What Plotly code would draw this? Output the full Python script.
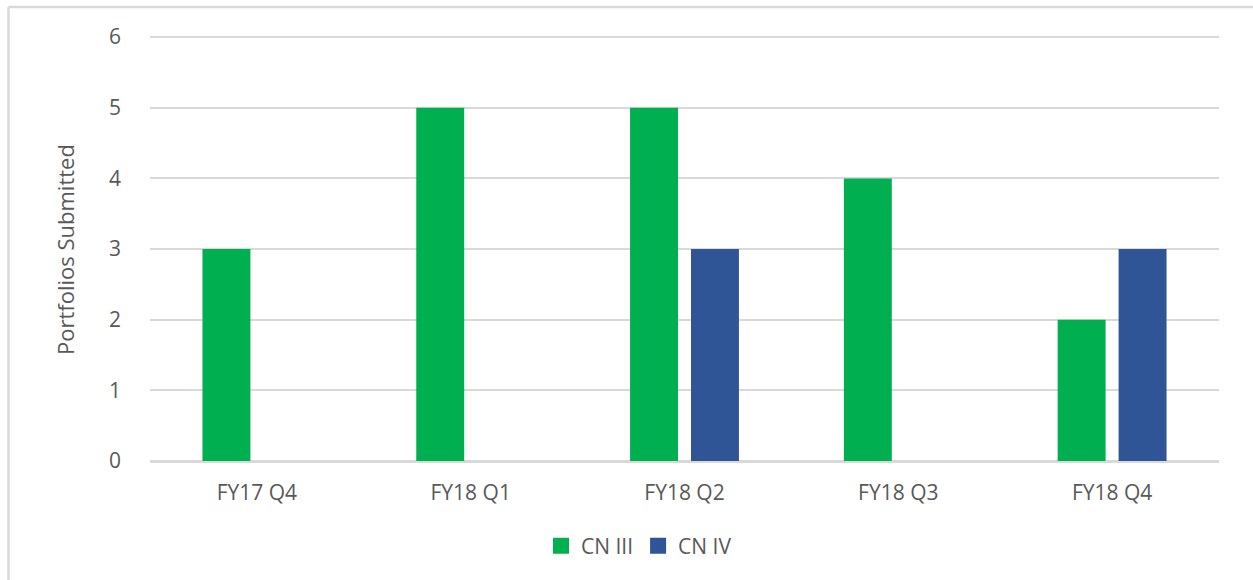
import plotly.graph_objects as go

categories = ["FY17 Q4", "FY18 Q1", "FY18 Q2", "FY18 Q3", "FY18 Q4"]
cn3 = [3, 5, 5, 4, 2]
cn4 = [None, None, 3, None, 3]
y_ticks = [0, 1, 2, 3, 4, 5, 6]
green, blue = "#00B050", "#2F5597"

W, H = 1253, 580
L, R, T, B = 150, 34, 35, 119
pw, ph = W - L - R, H - T - B

def px_x(x):
    return (x - L) / pw

def px_y(y):
    return (H - B - y) / ph

fig = go.Figure()
fig.add_trace(go.Bar(x=categories, y=cn3, name="CN III", showlegend=False,
                     marker=dict(color=green, line=dict(width=0))))
fig.add_trace(go.Bar(x=categories, y=cn4, name="CN IV", showlegend=False,
                     marker=dict(color=blue, line=dict(width=0))))
# legend entries with larger square swatches
for nm, col in (("CN III", green), ("CN IV", blue)):
    fig.add_trace(go.Scatter(x=[None], y=[None], mode="markers", name=nm,
                             marker=dict(symbol="square", size=16, color=col)))

tick_font = dict(family="Open Sans", size=21, color="#595959")

fig.update_layout(
    width=W, height=H,
    margin=dict(l=L, r=R, t=T, b=B),
    paper_bgcolor="white", plot_bgcolor="white",
    barmode="group", bargap=0.43, bargroupgap=0.213,
    showlegend=True,
    legend=dict(orientation="h", x=px_x(639), xanchor="center", y=px_y(546), yanchor="middle",
                font=dict(family="Open Sans", size=21, color="#595959"), itemsizing="trace",
                traceorder="normal"),
    xaxis=dict(showgrid=False, showline=True, linecolor="#D9D9D9", linewidth=2, tickfont=tick_font,
               ticks="", ticklabelstandoff=12),
    yaxis=dict(range=[0, 6.03], tickvals=y_ticks, showgrid=True, gridcolor="#D9D9D9", gridwidth=1.5,
               zeroline=True, zerolinecolor="#D9D9D9", zerolinewidth=2, showline=False,
               tickfont=tick_font, ticks="", ticklabelstandoff=28),
    shapes=[
        dict(type="line", xref="paper", yref="paper", x0=px_x(8.5), x1=px_x(1253), y0=px_y(7), y1=px_y(7),
             line=dict(color="#D9D9D9", width=2.5)),
        dict(type="line", xref="paper", yref="paper", x0=px_x(8.5), x1=px_x(8.5), y0=px_y(7), y1=px_y(580),
             line=dict(color="#D9D9D9", width=2.5)),
    ],
    annotations=[
        dict(text="Portfolios Submitted", xref="paper", yref="paper", x=px_x(65), y=px_y(250),
             xanchor="center", yanchor="middle", textangle=-90, showarrow=False,
             font=dict(family="Open Sans", size=22, color="#595959")),
    ],
)

fig.write_html("out.html")
